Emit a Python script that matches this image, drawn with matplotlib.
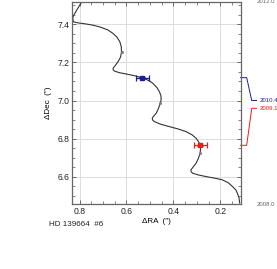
"""
Astrometric track of HD 139664 #6 with two measured epochs
"""

import matplotlib

matplotlib.use("Agg")
import matplotlib.pyplot as plt  # noqa:E402
import matplotlib.transforms as mtransforms  # noqa:E402

# expected background track (RA, Dec offsets in arcsec)
track_ra = [0.791, 0.812, 0.826, 0.829, 0.826, 0.805, 0.784, 0.745, 0.713, 0.680,
            0.657, 0.640, 0.628, 0.622, 0.621, 0.625, 0.636, 0.648, 0.657, 0.656,
            0.650, 0.630, 0.600, 0.565, 0.532, 0.505, 0.487, 0.470, 0.459, 0.453,
            0.452, 0.456, 0.463, 0.473, 0.484, 0.490, 0.488, 0.480, 0.455, 0.417,
            0.380, 0.346, 0.320, 0.303, 0.292, 0.286, 0.284, 0.286, 0.293, 0.303,
            0.315, 0.325, 0.324, 0.318, 0.295, 0.261, 0.225, 0.191, 0.165, 0.148,
            0.134, 0.127, 0.120, 0.117]
track_dec = [7.517, 7.474, 7.445, 7.430, 7.413, 7.407, 7.404, 7.396, 7.386, 7.371,
             7.352, 7.332, 7.308, 7.282, 7.255, 7.228, 7.203, 7.183, 7.169, 7.160,
             7.154, 7.146, 7.139, 7.130, 7.119, 7.105, 7.090, 7.068, 7.046, 7.025,
             7.003, 6.985, 6.960, 6.933, 6.918, 6.907, 6.897, 6.889, 6.876, 6.863,
             6.851, 6.837, 6.820, 6.802, 6.783, 6.765, 6.745, 6.724, 6.697, 6.671,
             6.652, 6.636, 6.626, 6.619, 6.610, 6.601, 6.593, 6.584, 6.568, 6.549,
             6.532, 6.514, 6.490, 6.462]

# yearly markers on the track
year_ra = [0.621, 0.456, 0.286]
year_dec = [7.255, 6.985, 6.724]

# measured epochs
epochs = ["2010.4", "2009.1"]
epoch_ra = [0.532, 0.285]
epoch_dec = [7.120, 6.765]
epoch_ra_err = [0.027, 0.028]
epoch_dec_err = [0.004, 0.004]
epoch_colors = ["#1c1c96", "#f01818"]
epoch_label_dec = [7.000, 6.959]

time_range = ["2012.0", "2008.0"]


def main():
    plt.rcParams["font.family"] = ["Liberation Sans", "DejaVu Sans"]

    fig = plt.figure(figsize=(2.77, 2.69), dpi=100)
    ax = fig.add_axes([0.2617, 0.2416, 0.607, 0.751])

    ax.plot(track_ra, track_dec, color="#333333", lw=0.8, zorder=2)
    ax.plot(year_ra, year_dec, "o", color="#808080", ms=2.2, mew=0, zorder=3)

    for ra, dec, era, edec, col in zip(epoch_ra, epoch_dec, epoch_ra_err,
                                       epoch_dec_err, epoch_colors):
        ax.errorbar(ra, dec, xerr=era, yerr=edec, fmt="s", color=col, ms=2.8,
                    lw=0.9, capsize=2.0, capthick=0.9, zorder=4)

    ax.set_xlim(0.83, 0.113)
    ax.set_ylim(6.457, 7.517)
    ax.set_xticks([0.8, 0.6, 0.4, 0.2])
    ax.set_yticks([6.6, 6.8, 7.0, 7.2, 7.4])
    ax.set_xticks([0.75, 0.7, 0.65, 0.55, 0.5, 0.45, 0.35, 0.3, 0.25, 0.15],
                  minor=True)
    ax.set_yticks([6.5, 6.55, 6.65, 6.7, 6.75, 6.85, 6.9, 6.95, 7.05, 7.1,
                   7.15, 7.25, 7.3, 7.35, 7.45, 7.5], minor=True)
    ax.grid(True, color="#dcdcdc", lw=0.7, zorder=0)
    ax.tick_params(which="both", direction="in", top=True, right=True,
                   colors="#555555", labelcolor="#222222", labelsize=6.2,
                   pad=2)
    ax.tick_params(which="major", length=3.2, width=0.6)
    ax.tick_params(which="minor", length=2.0, width=0.5)
    for sp in ax.spines.values():
        sp.set_color("#666666")
        sp.set_linewidth(0.9)

    ax.set_xlabel("\u0394RA  (\u2033)", fontsize=5.8, labelpad=1.5)
    ax.set_ylabel("\u0394Dec  (\u2033)", fontsize=5.8, labelpad=4)
    ax.text(-0.14, -0.102, "HD 139664  #6", transform=ax.transAxes,
            fontsize=5.8, ha="left", va="center", color="#222222")

    # epoch scale on the right
    ax.text(1.095, 1.0, time_range[0], transform=ax.transAxes, fontsize=4.3,
            color="#666666", ha="left", va="center")
    ax.text(1.095, 0.0, time_range[1], transform=ax.transAxes, fontsize=4.3,
            color="#666666", ha="left", va="center")

    trans = mtransforms.blended_transform_factory(ax.transAxes, ax.transData)
    for dec, ldec, lab, col in zip(epoch_dec, epoch_label_dec, epochs,
                                   epoch_colors):
        ax.plot([1.0, 1.036, 1.066, 1.095], [dec, dec, ldec, ldec],
                transform=trans, color=col, lw=0.7, clip_on=False)
        ax.text(1.112, ldec, lab, transform=trans, fontsize=4.3, color=col,
                ha="left", va="center")

    fig.savefig("out.png", dpi=100)
    plt.close(fig)


if __name__ == "__main__":
    main()
